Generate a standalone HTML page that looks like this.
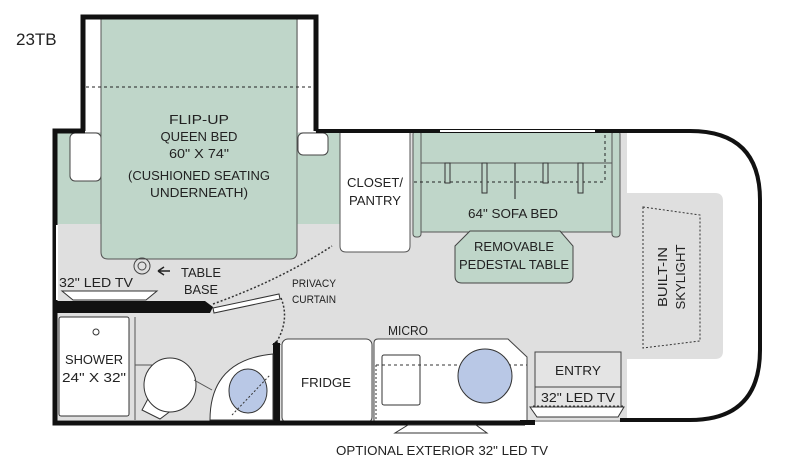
<!DOCTYPE html>
<html><head><meta charset="utf-8"><style>
html,body{margin:0;padding:0;background:#fff;width:800px;height:461px;overflow:hidden}
svg text{font-family:"Liberation Sans",sans-serif;fill:#222;font-size:13px}
</style></head><body>
<svg width="800" height="461" viewBox="0 0 800 461" xmlns="http://www.w3.org/2000/svg">
<text x="16" y="45" style="font-size:17px">23TB</text>
<path d="M55 131 H83 V17 H316 V131 H690 Q760 131 760 200 V350 Q760 420 690 420 H55 Z" fill="#dfdfdf"/>
<path d="M627 131 H690 Q760 131 760 200 V350 Q760 420 690 420 H627 V359 H715 Q723 359 723 351 V201 Q723 193 715 193 H627 Z" fill="#fff"/>
<rect x="57" y="133" width="45" height="91" fill="#bfd6c9"/>
<rect x="297" y="133" width="44" height="91" fill="#bfd6c9"/>
<rect x="70" y="133" width="31" height="48" rx="5" fill="#fff" stroke="#444"/>
<rect x="298" y="133" width="30" height="22" rx="5" fill="#fff" stroke="#444"/>
<rect x="84" y="18" width="17" height="114" fill="#fff"/>
<rect x="298" y="18" width="17" height="114" fill="#fff"/>
<line x1="84" y1="38" x2="84" y2="118" stroke="#999" stroke-width="2"/>
<line x1="315" y1="38" x2="315" y2="118" stroke="#999" stroke-width="2"/>
<path d="M101 17 H297 V252 Q297 259 290 259 H108 Q101 259 101 252 Z" fill="#bfd6c9" stroke="#555"/>
<line x1="86" y1="87" x2="312" y2="87" stroke="#222" stroke-dasharray="3,3"/>
<g text-anchor="middle">
<text x="199" y="124" textLength="60" lengthAdjust="spacingAndGlyphs">FLIP-UP</text>
<text x="199" y="141" textLength="77" lengthAdjust="spacingAndGlyphs">QUEEN BED</text>
<text x="199" y="158" textLength="60" lengthAdjust="spacingAndGlyphs">60" X 74"</text>
<text x="199" y="180" textLength="142" lengthAdjust="spacingAndGlyphs">(CUSHIONED SEATING</text>
<text x="199" y="197" textLength="98" lengthAdjust="spacingAndGlyphs">UNDERNEATH)</text>
</g>
<!-- closet -->
<path d="M340 131 H410 V246 Q410 252 404 252 H346 Q340 252 340 246 Z" fill="#fff" stroke="#555"/>
<text x="375" y="187" text-anchor="middle" textLength="56" lengthAdjust="spacingAndGlyphs">CLOSET/</text>
<text x="375" y="205" text-anchor="middle" textLength="52" lengthAdjust="spacingAndGlyphs">PANTRY</text>
<!-- sofa -->
<rect x="413" y="131" width="8" height="106" rx="3" fill="#bfd6c9" stroke="#555"/>
<rect x="612" y="131" width="8" height="106" rx="3" fill="#bfd6c9" stroke="#555"/>
<rect x="421" y="131" width="191" height="101" fill="#bfd6c9" stroke="#555"/>
<line x1="421" y1="163" x2="612" y2="163" stroke="#555"/>
<line x1="414" y1="182" x2="605" y2="182" stroke="#222" stroke-dasharray="3,3"/>
<line x1="605" y1="135" x2="605" y2="182" stroke="#222" stroke-dasharray="3,3"/>
<line x1="515" y1="163" x2="515" y2="199" stroke="#222"/>
<g stroke="#333" fill="#bfd6c9"><rect x="445" y="163" width="5" height="20"/><rect x="482" y="163" width="5" height="30"/><rect x="543" y="163" width="5" height="20"/><rect x="578" y="163" width="5" height="30"/></g>
<text x="513" y="218" text-anchor="middle" textLength="90" lengthAdjust="spacingAndGlyphs">64" SOFA BED</text>
<path d="M470 231 H560 L573 246 V276 Q573 283 566 283 H462 Q455 283 455 276 V246 Z" fill="#bfd6c9" stroke="#444"/>
<text x="514" y="251" text-anchor="middle" textLength="80" lengthAdjust="spacingAndGlyphs">REMOVABLE</text>
<text x="514" y="269" text-anchor="middle" textLength="110" lengthAdjust="spacingAndGlyphs">PEDESTAL TABLE</text>
<!-- skylight -->
<path d="M643 207 L700 215 V341 L643 348 Z" fill="none" stroke="#333" stroke-dasharray="2,2"/>
<text transform="translate(667 277) rotate(-90)" text-anchor="middle" textLength="60" lengthAdjust="spacingAndGlyphs">BUILT-IN</text>
<text transform="translate(685 277) rotate(-90)" text-anchor="middle" textLength="65" lengthAdjust="spacingAndGlyphs">SKYLIGHT</text>
<!-- table base / tv -->
<circle cx="142" cy="266" r="8" fill="none" stroke="#444"/><circle cx="142" cy="266" r="4" fill="none" stroke="#444"/>
<path d="M158 271 L170 271 M158 271 l6 -4 M158 271 l6 4" stroke="#222" stroke-width="1.5" fill="none"/>
<text x="201" y="277" text-anchor="middle" textLength="40" lengthAdjust="spacingAndGlyphs">TABLE</text>
<text x="201" y="294" text-anchor="middle" textLength="34" lengthAdjust="spacingAndGlyphs">BASE</text>
<text x="96" y="287" text-anchor="middle" textLength="74" lengthAdjust="spacingAndGlyphs">32" LED TV</text>
<path d="M62 291 H157 L146 300 H73 Z" fill="#fff" stroke="#333"/>
<text x="314" y="287" text-anchor="middle" style="font-size:11px" textLength="44" lengthAdjust="spacingAndGlyphs">PRIVACY</text>
<text x="314" y="303" text-anchor="middle" style="font-size:11px" textLength="44" lengthAdjust="spacingAndGlyphs">CURTAIN</text>
<!-- bath walls -->
<rect x="55" y="301" width="93" height="12" fill="#111"/>
<path d="M148 301 H205 L213 307 L210 313 H148 Z" fill="#111"/>
<path d="M213 308 L279 294 L280 299 L214 313 Z" fill="#fff" stroke="#333"/>
<path d="M213 304 Q280 280 332 246" fill="none" stroke="#333" stroke-width="1.5" stroke-dasharray="2,2"/>
<path d="M281 298 Q290 320 276 343" fill="none" stroke="#333" stroke-width="1.5" stroke-dasharray="2,2"/>
<rect x="273" y="343" width="7" height="80" fill="#111"/>
<path d="M272 345 L276 341 L281 345 Z" fill="#111"/>
<!-- shower -->
<rect x="59" y="317" width="70" height="99" rx="2" fill="#fff" stroke="#333"/>
<circle cx="96" cy="332" r="3" fill="none" stroke="#333"/>
<text x="94" y="364" text-anchor="middle" textLength="58" lengthAdjust="spacingAndGlyphs">SHOWER</text>
<text x="94" y="382" text-anchor="middle" textLength="64" lengthAdjust="spacingAndGlyphs">24" X 32"</text>
<line x1="135" y1="317" x2="135" y2="420" stroke="#555"/>
<!-- toilet -->
<line x1="135" y1="365" x2="152" y2="365" stroke="#555"/>
<path d="M150 395 L142 410 L160 419 L172 410" fill="#fff" stroke="#333"/>
<ellipse cx="170" cy="385" rx="26" ry="27" fill="#fff" stroke="#333"/>
<line x1="194" y1="380" x2="212" y2="390" stroke="#555"/>
<!-- sink -->
<path d="M210 420 Q210 360 273 354 V420 Z" fill="#fff" stroke="#333"/>
<ellipse cx="248" cy="391" rx="19" ry="22" fill="#b9c8e6" stroke="#333"/>
<line x1="232" y1="415" x2="270" y2="375" stroke="#333" stroke-dasharray="2,2"/>
<!-- fridge -->
<rect x="282" y="339" width="90" height="84" rx="6" fill="#fff" stroke="#444"/>
<text x="326" y="387" text-anchor="middle" textLength="50" lengthAdjust="spacingAndGlyphs">FRIDGE</text>
<!-- galley -->
<text x="408" y="335" text-anchor="middle" textLength="40" lengthAdjust="spacingAndGlyphs">MICRO</text>
<path d="M374 423 V343 Q374 339 378 339 H508 L527 357 V423" fill="#fff" stroke="#444"/>
<rect x="382" y="355" width="38" height="50" rx="2" fill="#fff" stroke="#333"/>
<line x1="376" y1="365" x2="527" y2="365" stroke="#333" stroke-dasharray="3,3"/>
<line x1="376" y1="365" x2="376" y2="420" stroke="#333" stroke-dasharray="2,2"/>
<circle cx="485" cy="376" r="27" fill="#b9c8e6" stroke="#333"/>
<!-- entry -->
<rect x="535" y="352" width="86" height="35" fill="#e4e4e4" stroke="#444"/>
<text x="578" y="375" text-anchor="middle" textLength="46" lengthAdjust="spacingAndGlyphs">ENTRY</text>
<rect x="535" y="387" width="86" height="20" fill="#e4e4e4" stroke="#444"/>
<text x="578" y="402" text-anchor="middle" textLength="74" lengthAdjust="spacingAndGlyphs">32" LED TV</text>
<line x1="533" y1="406" x2="624" y2="406" stroke="#333" stroke-dasharray="2,2"/>
<path d="M530 407 H624 L618 417 H537 Z" fill="#fff" stroke="#333"/>
<!-- walls -->
<path d="M83 131 V17 H316 V131" fill="none" stroke="#111" stroke-width="5"/>
<path d="M316 131 H690 Q760 131 760 200 V350 Q760 420 690 420 H620" fill="none" stroke="#111" stroke-width="4"/>
<path d="M85 131 H55 V423 H525" fill="none" stroke="#111" stroke-width="5"/>
<line x1="57" y1="225" x2="57" y2="300" stroke="#fff" stroke-width="2"/>
<line x1="440" y1="131" x2="595" y2="131" stroke="#fff" stroke-width="2"/>
<rect x="520" y="420" width="15" height="5" fill="#111"/>
<line x1="535" y1="421" x2="620" y2="421" stroke="#555"/>
<!-- exterior tv -->
<path d="M408 425 H476 L487 433 H395 Z" fill="#fff" stroke="#333"/>
<text x="442" y="455" text-anchor="middle" textLength="212" lengthAdjust="spacingAndGlyphs">OPTIONAL EXTERIOR 32" LED TV</text>
</svg>
</body></html>
